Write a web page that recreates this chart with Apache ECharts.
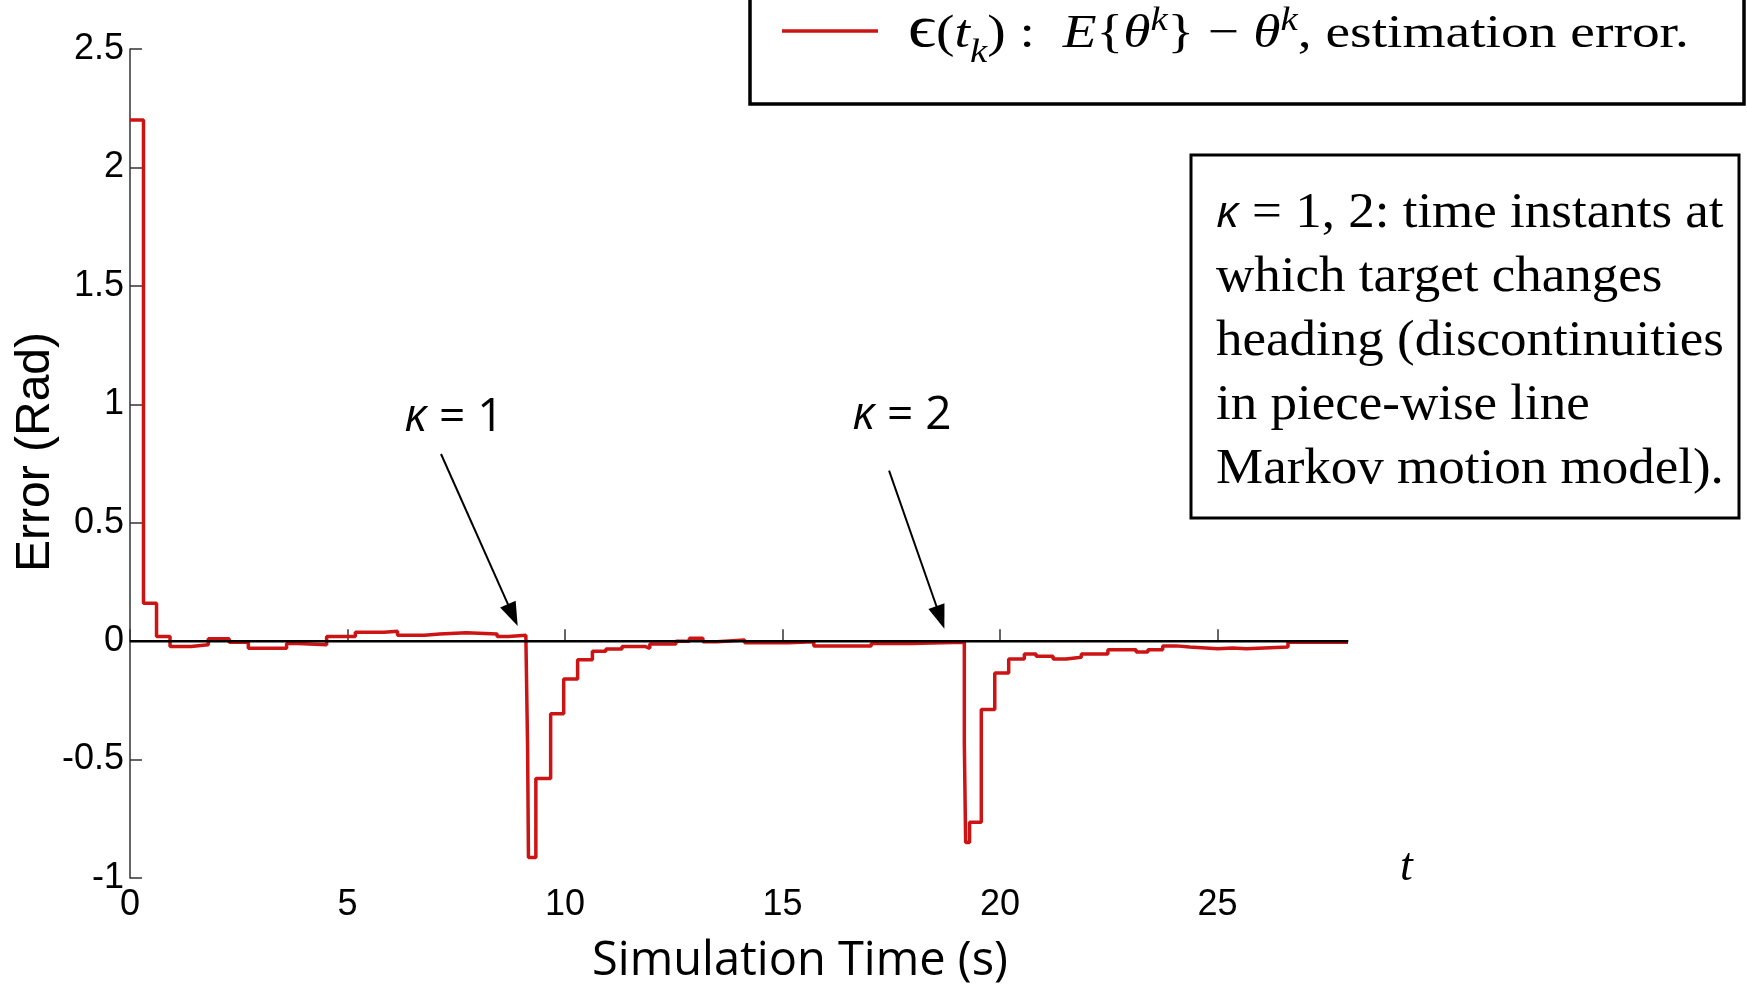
<!DOCTYPE html>
<html>
<head>
<meta charset="utf-8">
<script src="https://cdn.jsdelivr.net/npm/echarts@6/dist/echarts.min.js"></script>
<style>
html,body{margin:0;padding:0;background:#fff;}
#main{width:1747px;height:987px;}
</style>
</head>
<body>
<div id="main"></div>
<script>
// ---- data ----
const stepTimes = [0, 0.31, 0.61, 0.92, 1.40, 1.80, 2.28, 2.72, 3.60, 3.86, 4.52, 5.18, 5.84, 6.15, 6.77, 7.12, 7.73, 8.44, 8.70, 9.10,
  9.14, 9.16, 9.33, 9.67, 9.97, 10.29, 10.63, 10.94, 11.31, 11.85, 11.95, 12.55, 12.86, 13.17, 13.49, 14.13, 15.13, 15.72, 17.04, 17.95,
  19.18, 19.21, 19.30, 19.57, 19.88, 20.20, 20.56, 20.83, 21.22, 21.52, 21.87, 22.48, 23.13, 23.40, 23.74, 24.05, 24.36, 25.01, 25.35, 25.66, 26.62, 28];
const errorValues = [2.20, 0.16, 0.02, -0.023, -0.015, 0.01, -0.005, -0.03, -0.01, -0.015, 0.02, 0.038, 0.042, 0.025, 0.03, 0.035, 0.03, 0.02, 0.025, 0.03,
  -0.45, -0.913, -0.58, -0.307, -0.16, -0.079, -0.043, -0.033, -0.023, -0.03, -0.012, 0.0, 0.012, -0.003, 0.005, -0.007, -0.003, -0.02, -0.01, -0.005,
  -0.43, -0.85, -0.765, -0.289, -0.135, -0.075, -0.054, -0.064, -0.075, -0.068, -0.054, -0.036, -0.046, -0.036, -0.02, -0.025, -0.032, -0.029, -0.032, -0.025, -0.005, -0.005];
const zeroLine = [[0, 0], [28, 0]];
const xTickValues = [0, 5, 10, 15, 20, 25];
const arrowSegments = [
  [[7.15, 0.79], [8.80, 0.11]],
  [[17.45, 0.72], [18.63, 0.10]]
];
const kappaLabels = ['κ = 1', 'κ = 2'];
const infoLines = [' = 1, 2: time instants at', 'which target changes', 'heading (discontinuities', 'in piece-wise line', 'Markov motion model).'];
const yTitle = 'Error (Rad)';
const xTitle = 'Simulation Time (s)';

const series1 = stepTimes.map((t, i) => [t, errorValues[i]]);

const chart = echarts.init(document.getElementById('main'), null, {renderer: 'canvas'});

// text measuring for the legend formula
const mctx = document.createElement('canvas').getContext('2d');
function measure(txt, font) { mctx.font = font; return mctx.measureText(txt).width; }

const LS = 47; // legend font size
const legendPieces = [
  {t: 'ϵ', it: false, s: 1.25, dy: 0},
  {t: '(', it: false, s: 1, dy: 0},
  {t: 't', it: true, s: 1, dy: 0},
  {t: 'k', it: true, s: 0.7, dy: 0.28},
  {t: ')', it: false, s: 1, dy: 0},
  {t: ' :  ', it: false, s: 1, dy: 0},
  {t: 'E', it: true, s: 1, dy: 0},
  {t: '{', it: false, s: 1, dy: 0},
  {t: 'θ', it: true, s: 1, dy: 0},
  {t: 'k', it: true, s: 0.7, dy: -0.4},
  {t: '}', it: false, s: 1, dy: 0},
  {t: ' − ', it: false, s: 1, dy: 0},
  {t: 'θ', it: true, s: 1, dy: 0},
  {t: 'k', it: true, s: 0.7, dy: -0.4},
  {t: ', estimation error.', it: false, s: 1, dy: 0}
];
const legendChildren = [];
let cx = 0;
legendPieces.forEach(p => {
  const size = LS * p.s;
  const font = (p.it ? 'italic ' : '') + size + 'px "Liberation Serif"';
  legendChildren.push({
    type: 'text', x: cx, y: p.dy * LS - 0.34 * size, z: 12,
    style: {text: p.t, font: font, fill: '#000', align: 'left', verticalAlign: 'middle'}
  });
  cx += measure(p.t, font);
});

const option = {
  animation: false,
  backgroundColor: '#fff',
  grid: {left: 130, top: 49, right: 399, bottom: 109, containLabel: false, outerBoundsMode: 'none'},
  xAxis: {
    type: 'value', min: 0, max: 28, interval: 5,
    axisLine: {lineStyle: {color: '#333', width: 1.5}},
    axisTick: {inside: true, length: 12, lineStyle: {color: '#333', width: 1.5}, customValues: xTickValues},
    axisLabel: {customValues: xTickValues, fontSize: 36, fontFamily: 'Liberation Sans', color: '#000', margin: 9},
    splitLine: {show: false}
  },
  yAxis: {
    type: 'value', min: -1, max: 2.5, interval: 0.5,
    axisLine: {lineStyle: {color: '#333', width: 1.5}},
    axisTick: {inside: true, length: 12, lineStyle: {color: '#333', width: 1.5}},
    axisLabel: {fontSize: 36, fontFamily: 'Liberation Sans', color: '#000', margin: 6},
    splitLine: {show: false}
  },
  series: [
    {
      type: 'line', data: series1, step: 'end', showSymbol: false, symbol: 'none', z: 2,
      lineStyle: {color: '#cc1414', width: 3.5}
    },
    {
      type: 'line', data: zeroLine, showSymbol: false, symbol: 'none', z: 3,
      lineStyle: {color: '#000', width: 2.5},
      markLine: {
        silent: true, symbol: ['none', 'triangle'], symbolSize: [17, 24], animation: false,
        lineStyle: {color: '#000', width: 2, type: 'solid'},
        itemStyle: {color: '#000'},
        label: {show: false},
        data: arrowSegments.map(s => [{coord: s[0]}, {coord: s[1]}])
      }
    }
  ],
  graphic: [
    // legend box
    {type: 'rect', shape: {x: 750, y: -10, width: 994, height: 114}, style: {fill: '#fff', stroke: '#000', lineWidth: 3.5}, z: 10},
    {type: 'line', shape: {x1: 782, y1: 31, x2: 878, y2: 31}, style: {stroke: '#cc1414', lineWidth: 3.5}, z: 11},
    {type: 'group', x: 908, y: 51, scaleX: 1.18, children: legendChildren, z: 12},
    // info box
    {type: 'rect', shape: {x: 1191, y: 155, width: 548, height: 363}, style: {fill: '#fff', stroke: '#000', lineWidth: 3}, z: 10},
    {
      type: 'text', x: 1216, y: 182, scaleX: 1.06, z: 11,
      style: {
        text: '{k|κ}{n|' + infoLines[0] + '}\n' + infoLines.slice(1).map(l => '{n|' + l + '}').join('\n'),
        align: 'left', verticalAlign: 'top',
        rich: {
          k: {fontFamily: 'Open Sans', fontStyle: 'italic', fontSize: 44, lineHeight: 64, fill: '#000'},
          n: {fontFamily: 'Liberation Serif', fontSize: 50, lineHeight: 64, fill: '#000'}
        }
      }
    },
    // kappa annotations
    {
      type: 'text', x: 454, y: 418, z: 11,
      style: {text: '{k|κ}{n|' + kappaLabels[0].slice(1) + '}', align: 'center', verticalAlign: 'middle',
        rich: {k: {fontFamily: 'Open Sans', fontStyle: 'italic', fontSize: 46, fill: '#000'}, n: {fontFamily: 'Open Sans', fontSize: 46, fill: '#000'}}}
    },
    {
      type: 'text', x: 902, y: 416, z: 11,
      style: {text: '{k|κ}{n|' + kappaLabels[1].slice(1) + '}', align: 'center', verticalAlign: 'middle',
        rich: {k: {fontFamily: 'Open Sans', fontStyle: 'italic', fontSize: 46, fill: '#000'}, n: {fontFamily: 'Open Sans', fontSize: 46, fill: '#000'}}}
    },
    // axis titles and t
    {type: 'text', x: 36, y: 452, rotation: Math.PI / 2, z: 11, style: {text: yTitle, font: '48px "Liberation Sans"', fill: '#000', align: 'center', verticalAlign: 'middle'}},
    {type: 'text', x: 800, y: 962, z: 11, style: {text: xTitle, font: '47px "Open Sans"', fill: '#000', align: 'center', verticalAlign: 'middle'}},
    {type: 'text', x: 1400, y: 868, z: 11, style: {text: 't', font: 'italic 46px "Liberation Serif"', fill: '#000', align: 'left', verticalAlign: 'middle'}}
  ]
};
chart.setOption(option);
</script>
</body>
</html>
